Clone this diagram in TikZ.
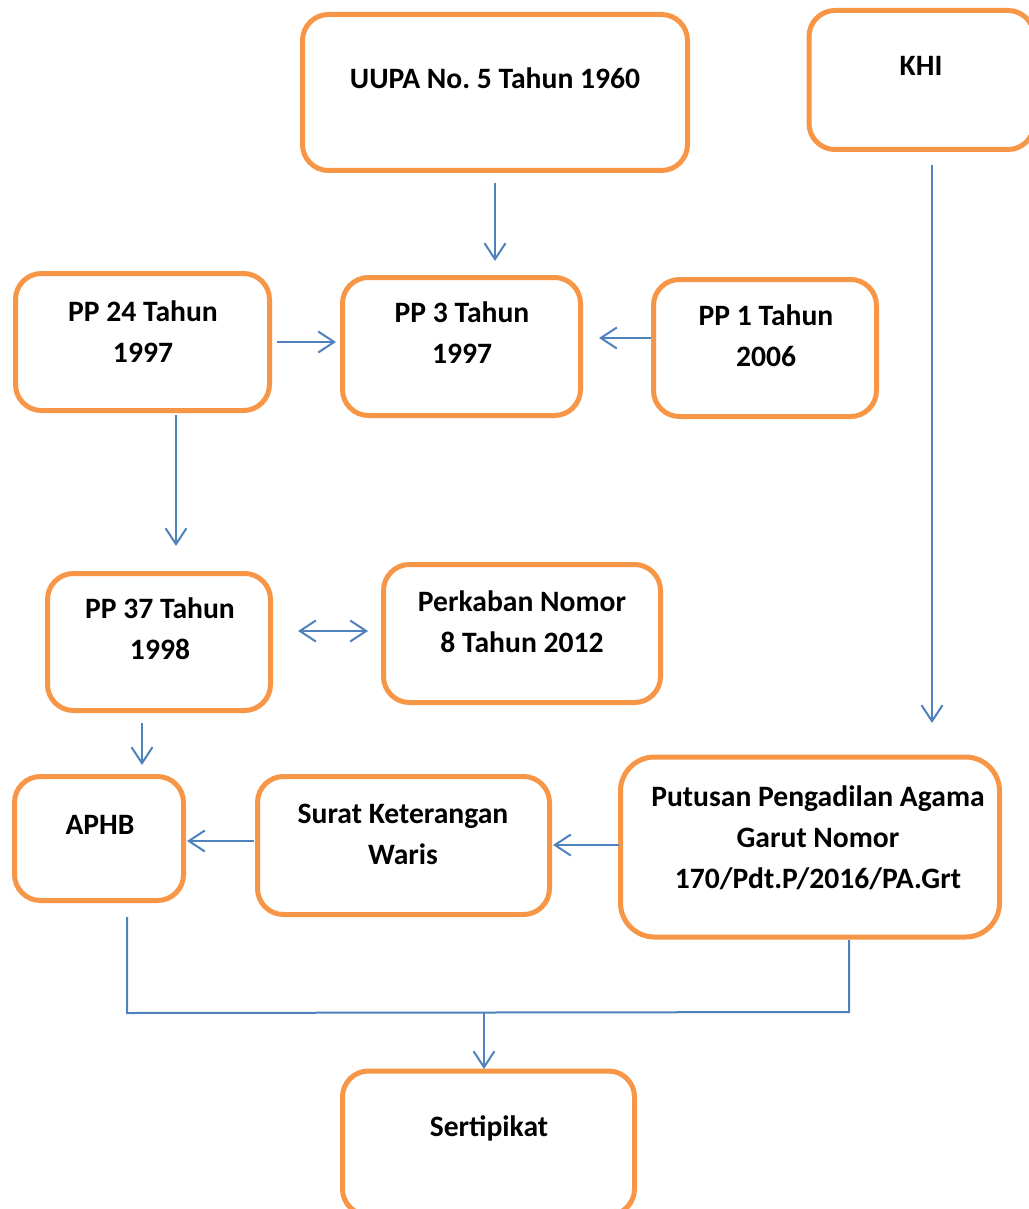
\documentclass[tikz,border=0pt]{standalone}
\usepackage{fontspec}
\setmainfont{Carlito}
\usetikzlibrary{arrows.meta}
\definecolor{boxorange}{HTML}{F79646}
\definecolor{lineblue}{HTML}{4F81BD}
\frenchspacing
\begin{document}
\begin{tikzpicture}[x=0.5pt,y=-0.5pt,
  box/.style={draw=boxorange, line width=2.5pt, rounded corners=13pt, fill=white, inner sep=0pt},
  lbl/.style={align=center, font=\fontsize{14.8pt}{20.6pt}\selectfont\bfseries, inner sep=0pt},
  conn/.style={draw=lineblue, line width=1pt},
  arr/.style={conn, -{Straight Barb[length=8pt,width=10.5pt,line width=1pt]}},
  arrb/.style={conn, {Straight Barb[length=8pt,width=10.5pt,line width=1pt]}-{Straight Barb[length=8pt,width=10.5pt,line width=1pt]}}]
\useasboundingbox (0,0) rectangle (1028,1209);
\fill[white] (0,0) rectangle (1028,1209);

% boxes
\node[box, minimum width=192.5pt, minimum height=78pt] (uupa) at (495,92.5) {};
\node[box, minimum width=112.5pt, minimum height=69.5pt] (khi) at (921.5,80) {};
\node[box, minimum width=127pt, minimum height=68.5pt] (pp24) at (142.5,342) {};
\node[box, minimum width=119pt, minimum height=69pt] (pp3) at (461.5,346.5) {};
\node[box, minimum width=111.5pt, minimum height=68.5pt] (pp1) at (765,348) {};
\node[box, minimum width=111.5pt, minimum height=68.5pt] (pp37) at (159,642) {};
\node[box, minimum width=138.5pt, minimum height=69pt] (perk) at (522,633.5) {};
\node[box, minimum width=84.5pt, minimum height=62pt] (aphb) at (99,838.5) {};
\node[box, minimum width=146pt, minimum height=69pt] (surat) at (403.5,845.5) {};
\node[box, rounded corners=17pt, minimum width=189.5pt, minimum height=90pt] (put) at (810,847) {};
\node[box, minimum width=146pt, minimum height=72pt] (sert) at (488.5,1143) {};

% texts
\node[lbl] (tuupa) at (495,78) {UUPA No. 5 Tahun 1960};
\node[lbl] (tkhi) at (921,66) {KHI};
\node[lbl] (tpp24) at (143,331.5) {PP 24 Tahun\\1997};
\node[lbl] (tpp3) at (462,332.5) {PP 3 Tahun\\1997};
\node[lbl] (tpp1) at (766,335.5) {PP 1 Tahun\\2006};
\node[lbl] (tpp37) at (160,629) {PP 37 Tahun\\1998};
\node[lbl] (tperk) at (522,621.5) {Perkaban Nomor\\8 Tahun 2012};
\node[lbl] (taphb) at (100,825) {APHB};
\node[lbl] (tsurat) at (403,834) {Surat Keterangan\\Waris};
\node[lbl] (tput) at (818,837.5) {Putusan Pengadilan Agama\\Garut Nomor\\170/Pdt.P/2016/PA.Grt};
\node[lbl] (tsert) at (489,1128) {Sertipikat};

% connector end points
\coordinate (a1s) at (495,183);  \coordinate (a1e) at (495,261);
\coordinate (a2s) at (277,342);  \coordinate (a2e) at (336,342);
\coordinate (a3s) at (651,338);  \coordinate (a3e) at (599,338);
\coordinate (a4s) at (176,415);  \coordinate (a4e) at (176,546);
\coordinate (a5s) at (298,631);  \coordinate (a5e) at (368,631);
\coordinate (a6s) at (142,723);  \coordinate (a6e) at (142,765);
\coordinate (a7s) at (932,165);  \coordinate (a7e) at (932,723);
\coordinate (a8s) at (254,841);  \coordinate (a8e) at (187,841);
\coordinate (a9s) at (619,845);  \coordinate (a9e) at (553,845);
\coordinate (b1) at (127,917);   \coordinate (b2) at (127,1013);
\coordinate (b3) at (849,940);   \coordinate (b4) at (849,1012);
\coordinate (b5) at (484,1013);  \coordinate (b6) at (484,1069);

\draw[arr] (a1s) -- (a1e);
\draw[arr] (a2s) -- (a2e);
\draw[arr] (a3s) -- (a3e);
\draw[arr] (a4s) -- (a4e);
\draw[arrb] (a5s) -- (a5e);
\draw[arr] (a6s) -- (a6e);
\draw[arr] (a7s) -- (a7e);
\draw[arr] (a8s) -- (a8e);
\draw[arr] (a9s) -- (a9e);
\draw[conn] (b1) -- (b2) -- (b4) -- (b3);
\draw[arr] (b5) -- (b6);
\end{tikzpicture}
\end{document}
